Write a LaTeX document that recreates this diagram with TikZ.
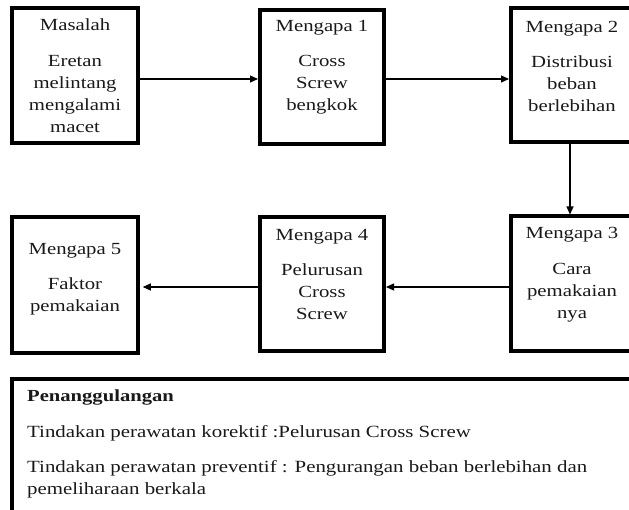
\documentclass[tikz,border=0pt]{standalone}
\usepackage{fontspec}
\setmainfont{Liberation Serif}
\newfontfamily\boxfont{Liberation Serif}[FakeStretch=1.22]
\usetikzlibrary{arrows.meta}
\begin{document}
\begin{tikzpicture}[x=1pt,y=-1pt,
  bx/.style={draw=black,line width=4pt,rectangle,inner sep=0pt},
  ln/.style={anchor=base,inner sep=0pt,font=\boxfont\fontsize{17}{22}\selectfont,text=black!90},
  tl/.style={anchor=base west,inner sep=0pt,font=\boxfont\fontsize{17.1}{22}\selectfont,text=black!90},
  arr/.style={draw=black,line width=1.1pt,-{Triangle[length=8pt,width=7pt]}}]
\useasboundingbox (0,0) rectangle (629,510);
\begin{scope}
\clip (0,0) rectangle (629,510);
% boxes
\node[bx,minimum width=126pt,minimum height=135pt] (b1) at (75,76) {};
\node[bx,minimum width=124pt,minimum height=134pt] (b2) at (322,77) {};
\node[bx,minimum width=122pt,minimum height=134pt] (b3) at (572,75.5) {};
\node[bx,minimum width=122pt,minimum height=135pt] (b4) at (572,284) {};
\node[bx,minimum width=124pt,minimum height=134pt] (b5) at (322,284) {};
\node[bx,minimum width=125.5pt,minimum height=135.5pt] (b6) at (75,285) {};
\node[bx,minimum width=640pt,minimum height=160pt] (b7) at (332,459) {};
% texts box 1
\node[ln] (t11) at (75,31) {Masalah};
\node[ln] (t12) at (75,67) {Eretan};
\node[ln] (t13) at (75,89) {melintang};
\node[ln] (t14) at (75,111) {mengalami};
\node[ln] (t15) at (75,133) {macet};
% box 2
\node[ln] (t21) at (322,32) {Mengapa 1};
\node[ln] (t22) at (322,67) {Cross};
\node[ln] (t23) at (322,89) {Screw};
\node[ln] (t24) at (322,111) {bengkok};
% box 3
\node[ln] (t31) at (572,33) {Mengapa 2};
\node[ln] (t32) at (572,68) {Distribusi};
\node[ln] (t33) at (572,90) {beban};
\node[ln] (t34) at (572,112) {berlebihan};
% box 4
\node[ln] (t41) at (572,239) {Mengapa 3};
\node[ln] (t42) at (572,275) {Cara};
\node[ln] (t43) at (572,297) {pemakaian};
\node[ln] (t44) at (572,319) {nya};
% box 5
\node[ln] (t51) at (322,241) {Mengapa 4};
\node[ln] (t52) at (322,276) {Pelurusan};
\node[ln] (t53) at (322,298) {Cross};
\node[ln] (t54) at (322,320) {Screw};
% box 6
\node[ln] (t61) at (75,255) {Mengapa 5};
\node[ln] (t62) at (75,290) {Faktor};
\node[ln] (t63) at (75,312) {pemakaian};
% bottom box
\node[tl,font=\boxfont\bfseries\fontsize{16.9}{22}\selectfont] (p1) at (27,402) {Penanggulangan};
\node[tl] (p2) at (27,437) {Tindakan perawatan korektif :Pelurusan Cross Screw};
\node[tl] (p3) at (27,472) {Tindakan perawatan preventif : Pengurangan beban berlebihan dan};
\node[tl] (p4) at (27,494) {pemeliharaan berkala};
\end{scope}
% arrows
\draw[arr] ([yshift=-3pt]b1.east) -- ([yshift=-3pt]b1.east -| b2.west);
\draw[arr] ([yshift=-2pt]b2.east) -- ([yshift=-2pt]b2.east -| b3.west);
\draw[arr] ([xshift=-2pt]b3.south) -- ([xshift=-2pt]b3.south |- b4.north);
\draw[arr] ([yshift=-3pt]b4.west) -- ([yshift=-3pt]b4.west -| b5.east);
\draw[arr,shorten >=3pt] ([yshift=-3pt]b5.west) -- ([yshift=-3pt]b5.west -| b6.east);
\end{tikzpicture}
\end{document}
